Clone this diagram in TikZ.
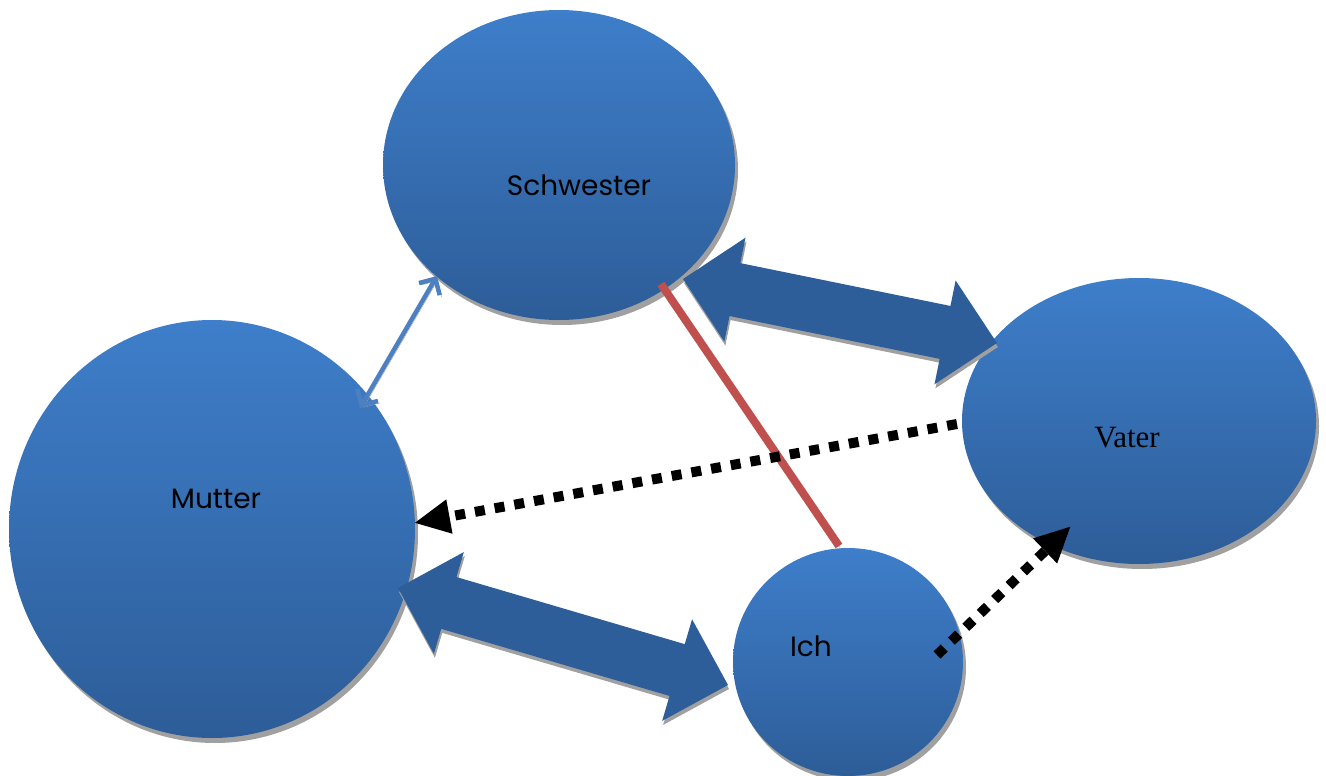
\documentclass[tikz,border=0pt]{standalone}
\usepackage{fontspec}
\setmainfont{Poppins}
\newfontfamily\serifface{Liberation Serif}
\usetikzlibrary{shapes.geometric,arrows.meta,calc,shadows}

\definecolor{blobtop}{RGB}{62,126,202}
\definecolor{blobbot}{RGB}{45,93,152}
\definecolor{arrowdark}{RGB}{45,94,153}
\definecolor{arrowlight}{RGB}{64,128,204}
\definecolor{thinblue}{RGB}{76,128,192}
\definecolor{redline}{RGB}{192,80,77}
\definecolor{shadowgrey}{RGB}{160,160,160}

% horizontal gradient for the block arrows: light tip on the left
\pgfdeclarehorizontalshading{blockshade}{100bp}{%
  color(0bp)=(arrowlight); color(18bp)=(arrowdark); color(100bp)=(arrowdark)}

\tikzset{
  blob/.style={ellipse, inner sep=0pt, top color=blobtop, bottom color=blobbot,
    drop shadow={shadow xshift=3pt, shadow yshift=-5pt, fill=shadowgrey, opacity=1}},
  blobtext/.style={font=\fontsize{28}{32}\selectfont, text=black},
  blockfill/.style={shading=blockshade,
    drop shadow={shadow xshift=1pt, shadow yshift=-4pt, fill=shadowgrey, opacity=1}},
  thinarrow/.style={draw=thinblue, line width=4.5pt,
    {Straight Barb[length=12pt,width=24pt]}-{Straight Barb[length=12pt,width=24pt]},
    preaction={draw=shadowgrey, transform canvas={xshift=2pt,yshift=-2pt}}},
  redlink/.style={draw=redline, line width=8pt,
    preaction={draw=shadowgrey, transform canvas={xshift=2pt,yshift=-3pt}}},
  dotlink/.style={draw=black, line width=10pt, dash pattern=on 10pt off 10pt,
    -{Triangle[length=36pt,width=32pt]}},
}

% block double arrow between two named coordinates
\newcommand\blockarrow[2]{%
  \path[blockfill] let \p1=(#1), \p2=(#2),
      \n1={atan2(\y2-\y1,\x2-\x1)}, \n2={veclen(\x2-\x1,\y2-\y1)} in
    [shift={(\p1)}, rotate=\n1]
    (0,0) -- (53,53) -- (53,27) -- (\n2-53,27) -- (\n2-53,53) -- (\n2,0)
    -- (\n2-53,-53) -- (\n2-53,-27) -- (53,-27) -- (53,-53) -- cycle;}

\begin{document}
\begin{tikzpicture}[x=1pt,y=1pt]
\useasboundingbox (0,0) rectangle (1326,-776);

% family members
\node[blob, minimum width=352pt, minimum height=310pt] (schw) at (559,-165) {};
\node[blob, minimum width=406pt, minimum height=418pt] (mutt) at (212,-529) {};
\node[blob, minimum width=354pt, minimum height=286pt] (vat)  at (1139,-421) {};
\node[blob, minimum width=230pt, minimum height=228pt] (ich)  at (848,-662) {};

\node[blobtext] (schw-t) at (579,-185) {Schwester};
\node[blobtext] (mutt-t) at (216,-499) {Mutter};
\node[blobtext, font=\serifface\fontsize{31}{36}\selectfont] (vat-t) at (1127,-438) {Vater};
\node[blobtext] (ich-t) at (811,-646) {Ich};

% ends of the connectors
\coordinate (ms-a) at (360,-408);
\coordinate (ms-b) at (437,-276);
\coordinate (sv-a) at (683,-279);
\coordinate (sv-b) at (997,-343);
\coordinate (mi-a) at (398,-588);
\coordinate (mi-b) at (728,-685);
\coordinate (si-a) at (661,-284);
\coordinate (si-b) at (839,-546);
\coordinate (vm-a) at (957,-424);
\coordinate (vm-b) at (414,-523);
\coordinate (iv-a) at (937,-655);
\coordinate (iv-b) at (1071,-526);

% connectors
\draw[thinarrow] (ms-a) -- (ms-b);
\blockarrow{sv-a}{sv-b}
\blockarrow{mi-a}{mi-b}
\draw[redlink] (si-a) -- (si-b);
\draw[dotlink] (vm-a) -- (vm-b);
\draw[dotlink] (iv-a) -- (iv-b);
\end{tikzpicture}
\end{document}
